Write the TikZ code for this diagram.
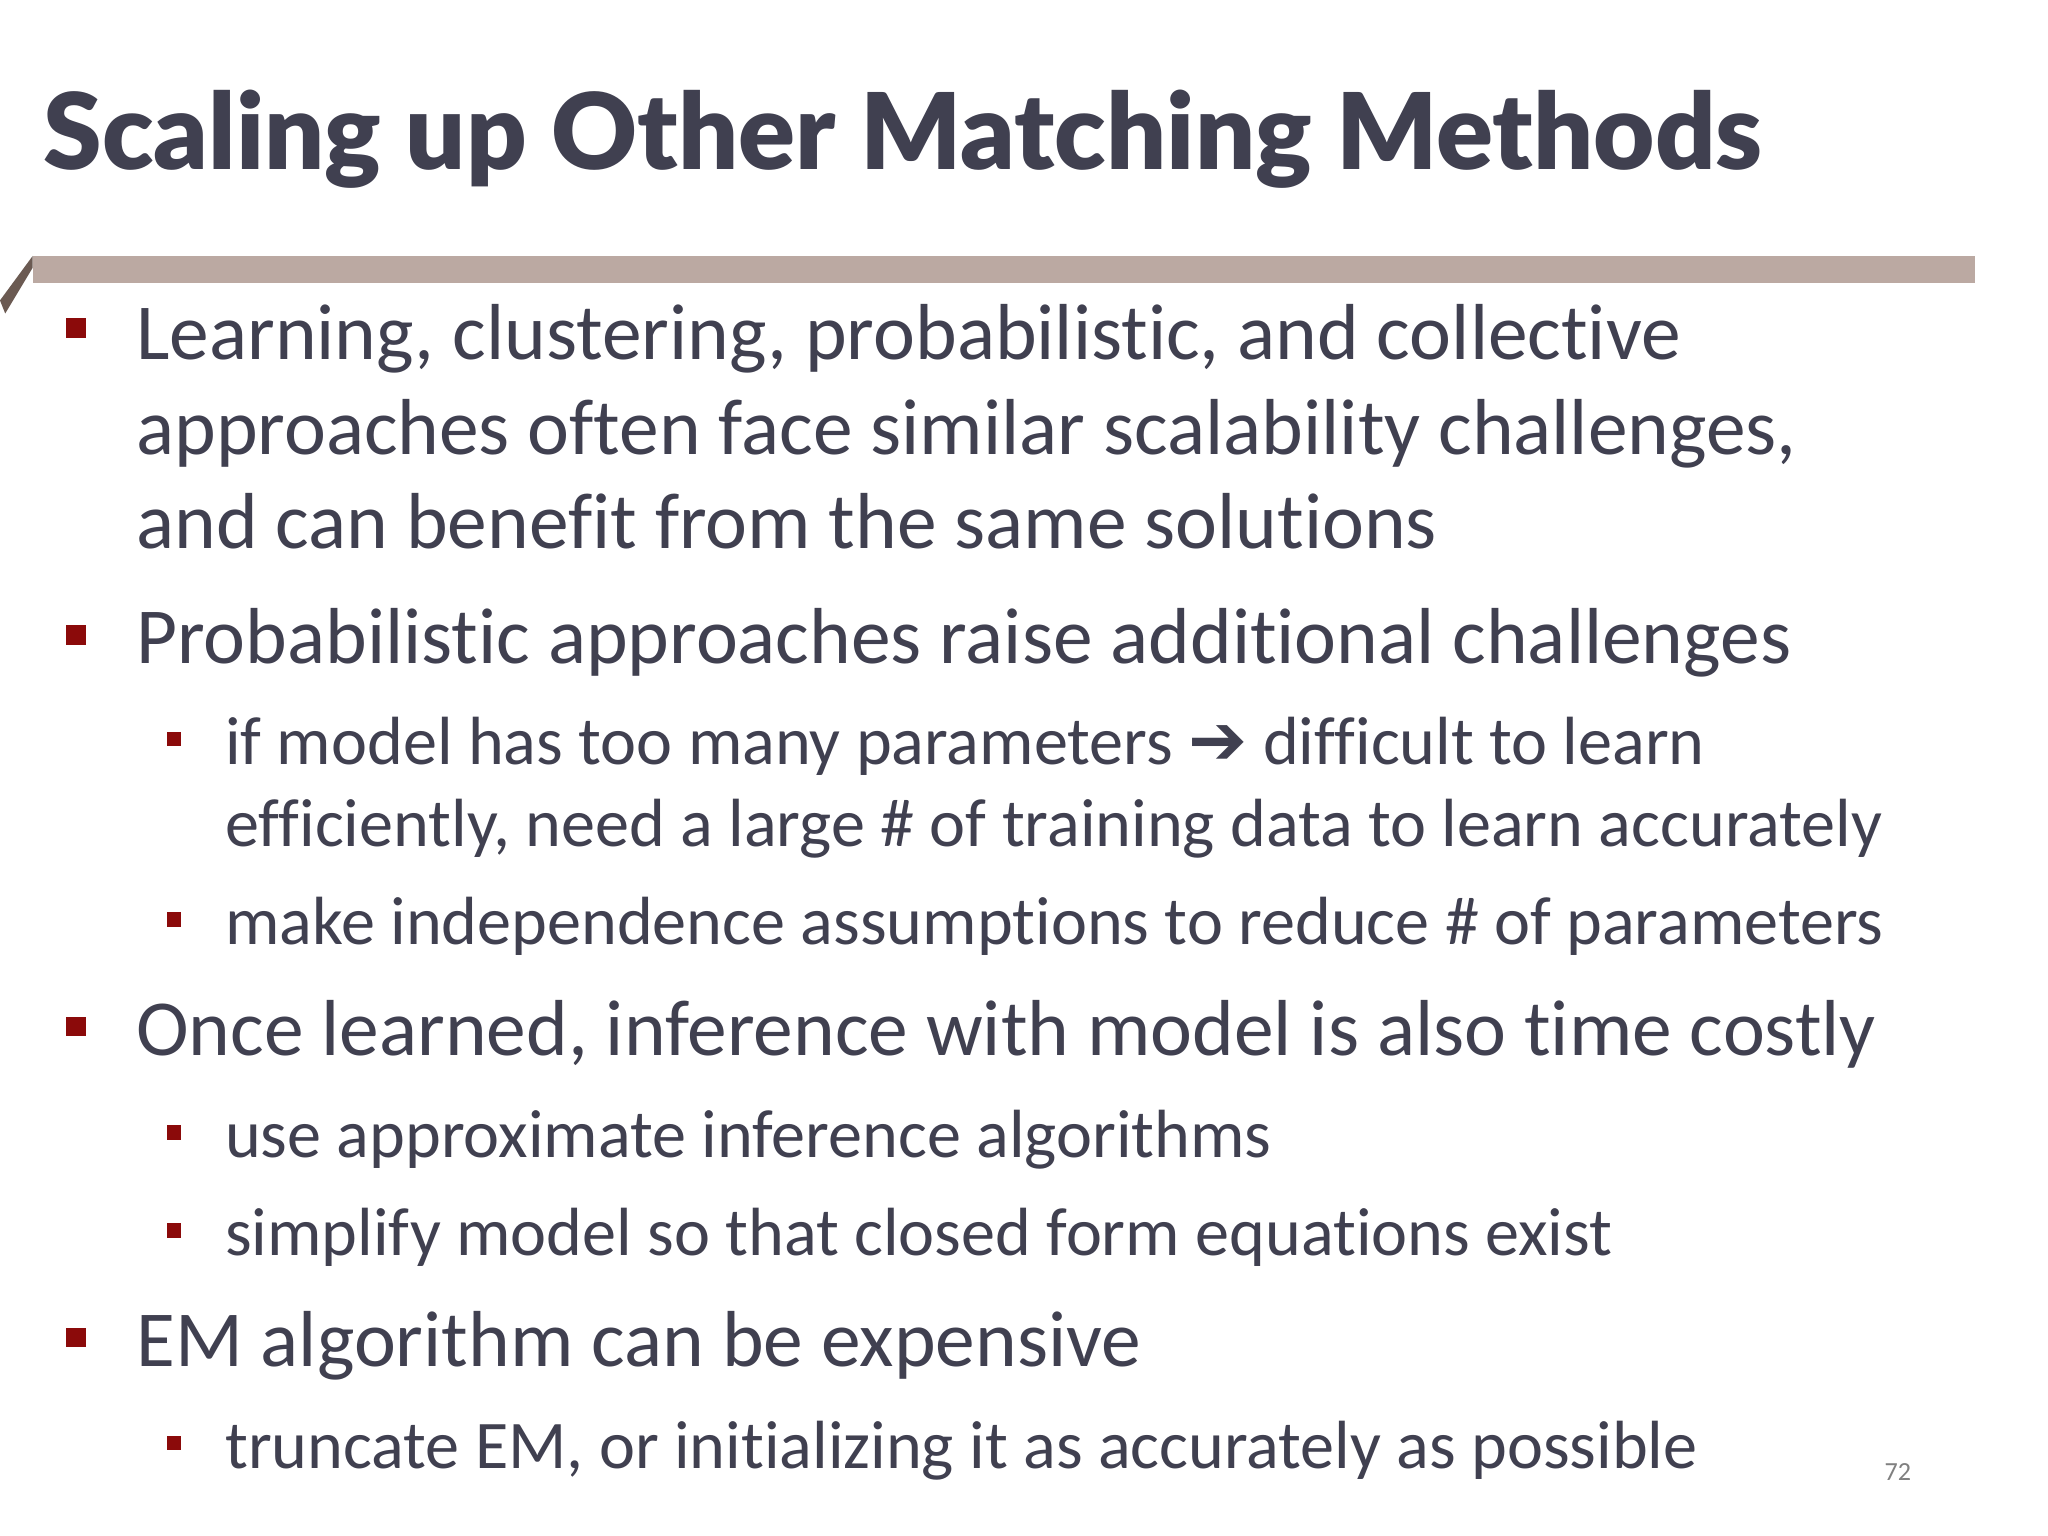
\documentclass[tikz,border=0pt]{standalone}
\usepackage{fontspec}
\setmainfont{Carlito}[Ligatures=NoCommon]
\newfontfamily\titlefont{Lato Black}
\newfontfamily\symfont{DejaVu Sans Bold}
\definecolor{txt}{HTML}{404050}
\definecolor{bul}{HTML}{8B0A0A}
\definecolor{barc}{HTML}{BBA9A2}
\definecolor{barl}{HTML}{6B5A52}
\begin{document}
\begin{tikzpicture}[x=0.5pt,y=-0.5pt,
  lone/.style={anchor=base west,inner sep=0pt,text=txt,font=\fontsize{30.4}{36}\selectfont},
  ltwo/.style={anchor=base west,inner sep=0pt,text=txt,font=\fontsize{26.1}{30}\selectfont},
  bone/.style={fill=bul,minimum size=7.5pt,inner sep=0pt},
  btwo/.style={fill=bul,minimum size=5.5pt,inner sep=0pt}]
\useasboundingbox[fill=white] (0,0) rectangle (1568,1176);
\node[anchor=base west,inner sep=0pt,text=txt,font=\titlefont\fontsize{40.5}{44}\selectfont] (title) at (33,130) {Scaling up Other Matching Methods};
\fill[barc] (25,196) rectangle (1512,217);
\fill[barl] (0,230) -- (25,196) -- (25,205) -- (4,240) -- cycle;
\node[bone] (b1) at (58,251) {};
\node[lone] (t1a) at (104,275) {Learning, clustering, probabilistic, and collective};
\node[lone] (t1b) at (104,348) {approaches often face similar scalability challenges,};
\node[lone] (t1c) at (104,420) {and can benefit from the same solutions};
\node[bone] (b2) at (58,486) {};
\node[lone] (t2) at (104,508) {Probabilistic approaches raise additional challenges};
\node[btwo] (s1) at (133,566) {};
\node[ltwo] (t3a) at (172,585) {if model has too many parameters {\symfont\fontsize{27}{28}\selectfont ➔} difficult to learn};
\node[ltwo] (t3b) at (172,648) {efficiently, need a large \# of training data to learn accurately};
\node[btwo] (s2) at (133,704) {};
\node[ltwo] (t4) at (172,723) {make independence assumptions to reduce \# of parameters};
\node[bone] (b3) at (58,786) {};
\node[lone] (t5) at (104,808) {Once learned, inference with model is also time costly};
\node[btwo] (s3) at (133,867) {};
\node[ltwo] (t6) at (172,886) {use approximate inference algorithms};
\node[btwo] (s4) at (133,942) {};
\node[ltwo] (t7) at (172,961) {simplify model so that closed form equations exist};
\node[bone] (b4) at (58,1024) {};
\node[lone] (t8) at (104,1046) {EM algorithm can be expensive};
\node[btwo] (s5) at (133,1105) {};
\node[ltwo] (t9) at (172,1124) {truncate EM, or initializing it as accurately as possible};
\node[text=gray,font=\fontsize{10}{12}\selectfont,inner sep=0pt] (pg) at (1453,1127) {72};
\end{tikzpicture}
\end{document}
